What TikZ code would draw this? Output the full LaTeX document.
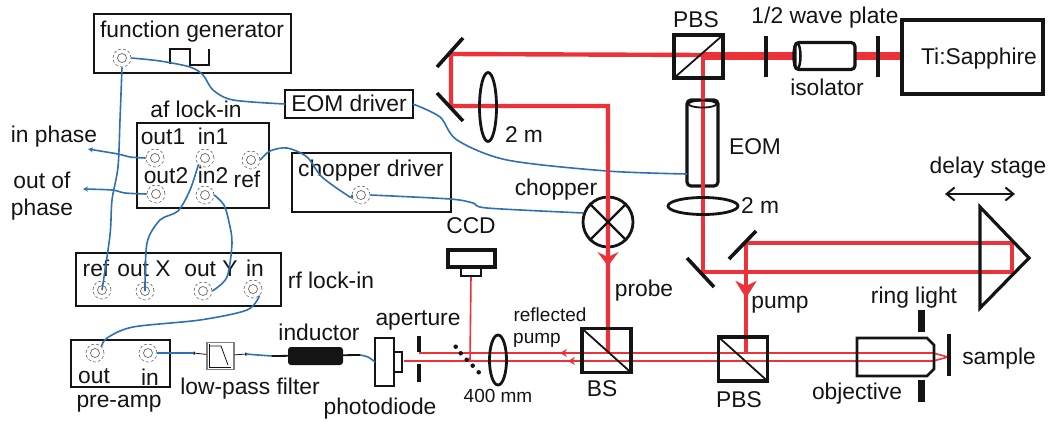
\documentclass[tikz,border=0pt]{standalone}
\usepackage{fontspec}
\setmainfont{Liberation Sans}
\usetikzlibrary{arrows.meta,shapes.geometric,calc}
\definecolor{beamred}{RGB}{236,50,56}
\definecolor{wireblue}{RGB}{46,112,178}
\definecolor{inkblack}{RGB}{20,20,20}

\begin{document}
\begin{tikzpicture}[x=1pt, y=-1pt,
        lbl/.style={font=\fontsize{22.8}{25}\selectfont, text=inkblack, anchor=base, inner sep=0pt, outer sep=0pt},
        smalllbl/.style={lbl, font=\fontsize{19}{22}\selectfont},
        devbox/.style={draw=inkblack, line width=2pt, inner sep=0pt, outer sep=0pt},
        optbox/.style={draw=inkblack, line width=3.2pt, inner sep=0pt, outer sep=0pt},
        optbar/.style={draw=inkblack, line width=3.6pt},
        jack/.style={circle, draw=gray!80!black, line width=0.6pt, densely dashed, minimum size=18pt, inner sep=0pt},
        jackin/.style={circle, draw=gray!80!black, line width=0.7pt, minimum size=9pt, inner sep=0pt},
        wire/.style={draw=wireblue, line width=1.6pt},
        beam/.style={draw=beamred, line width=4.4pt},
        thickbeam/.style={draw=beamred, line width=8pt},
        thinbeam/.style={draw=beamred, line width=1.6pt},
        dot/.style={circle, fill=inkblack, inner sep=0pt, minimum size=4.5pt}]
    \useasboundingbox (0,0) rectangle (1051,421);

    \node[devbox, minimum width=197, minimum height=59] (funcgen) at (192.5,43.5) {};
    \node[devbox, minimum width=128, minimum height=28] (eomdriver) at (349,104) {};
    \node[devbox, minimum width=132, minimum height=85] (aflockin) at (203,165.5) {};
    \node[devbox, minimum width=159, minimum height=59] (chopdriver) at (371.5,182.5) {};
    \node[devbox, minimum width=205, minimum height=53] (rflockin) at (178.5,279.5) {};
    \node[devbox, minimum width=99, minimum height=47] (preamp) at (120.5,363.5) {};

    \foreach \name/\x/\y in {jGen/122/58, jOutOne/155/158, jInOne/205/158, jRef/251/160, jOutTwo/156/194,
            jInTwo/205/195, jChop/361/195, jRfRef/102/290, jRfX/145/291, jRfY/203/291, jRfIn/253/289,
            jAmpOut/95/353, jAmpIn/148/353} {
        \node[jack] (\name) at (\x,\y) {};
        \node[jackin] (\name c) at (\x,\y) {};
    }

    \foreach \name/\x/\y/\txt in {tGen/192/37/function generator, tEomDrv/349/111/EOM driver, tAf/196/117/af lock-in,
            tInPhase/54/142/in phase, tOutOf/42/188/out of, tPhase/42/215/phase, tOutOne/163/144/out1,
            tInOne/213/144/in1, tOutTwo/166/183/out2, tInTwo/213/183/in2, tRef/247/187/ref,
            tChopDrv/371/176/chopper driver, tChopper/556/195/chopper, tLensA/524/142/2 m,
            tRfRef/96/276/ref, tRfX/144/276/out X, tRfY/211/276/out Y, tRfIn/255/276/in, tRf/331/288/rf lock-in,
            tInductor/319/340/inductor, tAmpOut/94/383/out, tAmpIn/150/385/in, tAmp/119/407/pre-amp,
            tFilter/250/394/low-pass filter, tDiode/380/414/photodiode, tAperture/418/325/aperture,
            tCcd/471/233/CCD, tBs/602/396/BS, tProbe/644/296/probe, tPbsA/696/27/PBS,
            tIso/827/95/isolator, tTi/979/64/Ti:Sapphire, tEom/755/154/EOM, tLensB/760/213/2 m,
            tDelay/988/173/delay stage, tPump/780/308/pump, tRing/914/303/ring light, tPbsB/739/407/PBS,
            tObj/857/399/objective, tSample/999/364/sample} {
        \node[lbl] (\name) at (\x,\y) {\txt};
    }
    \node[lbl] (tPlate) at (825,23) {1/2 wave plate};
    \node[smalllbl] (tRefl) at (550,321) {reflected};
    \node[smalllbl] (tReflB) at (537,343) {pump};
    \node[smalllbl] (tLensC) at (498,402) {400 mm};

    \draw[line width=2.2pt, inkblack] (170,64) -- (170,49) -- (190,49) -- (190,65) -- (209,65) -- (209,49);

    % optics drawn first so that the cables can reach them
    \node[circle, draw=inkblack, line width=2.8pt, minimum size=50, inner sep=0pt] (chopper) at (608,222) {};
    \node[optbox, rounded corners=4pt, minimum width=31, minimum height=86] (eom) at (702.5,143) {};
    \node[optbox, line width=2.4pt, minimum width=19, minimum height=48] (diode) at (384.5,362) {};
    \node[draw=gray, fill=white, line width=1.2pt, minimum width=27, minimum height=27, inner sep=0pt] (filter) at (220.5,356) {};
    \node[dot, minimum size=3.5pt] (stubL) at (194,353) {};
    \node[dot, minimum size=3.5pt] (stubR) at (246,354) {};
    \coordinate (tipIn) at (88,149);
    \coordinate (tipOut) at (83,189);
    \coordinate (eomIn) at (687,174);
    \coordinate (indA) at (272,356);
    \coordinate (indB) at (360,355);

    \draw[wire] plot[smooth] coordinates {(jGen.east) (160,61) (190,67) (203,75) (213,90) (233,100) (eomdriver.west)};
    \draw[wire] plot[smooth] coordinates {(jGen.south) (120,120) (118,167) (112,200) (110,235) (jRfRef)};
    \draw[wire, -{Stealth[length=5pt,width=5pt]}] plot[smooth] coordinates {(jOutOne.west) (130,157) (118,154) (tipIn)};
    \draw[wire, -{Stealth[length=5pt,width=5pt]}] plot[smooth] coordinates {(jOutTwo.west) (125,193) (112,190) (tipOut)};
    \draw[wire] plot[smooth] coordinates {(jInOne.south west) (190,190) (178,211) (160,220) (147,243) (jRfX)};
    \draw[wire] plot[smooth] coordinates {(jInTwo.east) (224,205) (229,222) (232,243) (227,277) (jRfY.east)};
    \draw[wire] plot[smooth] coordinates {(jRef.east) (270,151) (287,148) (307,157) (322,177) (350,197) (jChop.west)};
    \draw[wire] plot[smooth] coordinates {(jChop.east) (450,199) (473,203) (487,208) (chopper.160)};
    \draw[wire] plot[smooth] coordinates {(eomdriver.east) (440,117) (457,140) (507,160) (607,171) (eomIn)};
    \draw[wire] plot[smooth] coordinates {(jRfIn.south east) (247,310) (200,320) (133,327) (107,338) (jAmpOut.north east)};
    \draw[wire] plot[smooth] coordinates {(jAmpIn.east) (173,353) (stubL)};
    \draw[wire] plot[smooth] coordinates {(stubR) (258,355) (indA)};
    \draw[wire] plot[smooth] coordinates {(indB) (368,357) (diode.west)};

    % filter
    \draw[inkblack, line width=0.5pt] (209,344) -- (209,367) -- (231,367);
    \draw[inkblack, line width=0.8pt] (209,346) -- (221,346) -- (228,365);
    \draw[inkblack, line width=0.8pt] (stubL) -- (filter);
    \draw[inkblack, line width=0.8pt] (filter) -- (stubR);

    % inductor and photodiode
    \draw[inkblack, line width=1.8pt] (indA) -- (indB);
    \node[fill=inkblack, rounded corners=3pt, minimum width=55, minimum height=18, inner sep=0pt] (inductor) at (315.5,356) {};
    \node[optbox, line width=2.4pt, minimum width=8, minimum height=20] (diodewin) at (398,362) {};

    % beams
    \coordinate (mirA) at (451,54);
    \coordinate (mirB) at (451,106);
    \coordinate (chopTop) at (608,106);
    \coordinate (pbsA) at (703,55);
    \coordinate (tiOut) at (902,56);
    \coordinate (mirC) at (703,272);
    \coordinate (roofA) at (1012,272);
    \coordinate (roofB) at (1012,243);
    \coordinate (mirD) at (746,243);
    \coordinate (upperEnd) at (419,353);
    \coordinate (lowerEnd) at (404,361);
    \coordinate (objA) at (933,353);
    \coordinate (objB) at (933,361);
    \coordinate (focus) at (948,357);

    \draw[thickbeam] (703,56) -- (tiOut);
    \draw[beam] (pbsA) -- (mirA) -- (mirB) -- (chopTop) -- (608,352);
    \draw[beam] (pbsA) -- (mirC) -- (roofA) -- (roofB) -- (mirD) -- (746,352);
    \draw[beam, -{Stealth[length=14pt,width=21pt,inset=5pt]}] (608,240) -- (608,266);
    \draw[beam, -{Stealth[length=17pt,width=21pt,inset=5pt]}] (746,270) -- (746,298);
    \draw[thinbeam] (471,276) -- (470,361);
    \draw[thinbeam] (upperEnd) -- (objA) -- (focus) -- (objB) -- (lowerEnd);
    \draw[thinbeam, -{Stealth[length=7pt,width=8pt]}] (590,353) -- (560,353);
    \draw[thinbeam, -{Stealth[length=7pt,width=8pt]}] (600,361) -- (568,361);

    % mirrors and lenses
    \foreach \a/\b/\c/\d in {437/67/463/38, 437/93/463/121, 687/258/714/287, 729/259/756/231}
        \draw[optbar] (\a,\b) -- (\c,\d);
    \node[ellipse, draw=inkblack, line width=2.8pt, minimum width=17, minimum height=69, inner sep=0pt] (lensA) at (488,107) {};
    \node[ellipse, draw=inkblack, line width=2.8pt, minimum width=70, minimum height=17, inner sep=0pt] (lensB) at (703,206) {};
    \node[ellipse, draw=inkblack, line width=2.8pt, minimum width=17, minimum height=50, inner sep=0pt] (lensC) at (498,360) {};

    \draw[inkblack, line width=2.4pt] (chopper.north west) -- (chopper.south east);
    \draw[inkblack, line width=2.4pt] (chopper.north east) -- (chopper.south west);

    \node[optbox, minimum width=49, minimum height=43] (pbsTop) at (698.5,56.5) {};
    \draw[inkblack, line width=1.8pt] (pbsTop.north east) -- (pbsTop.south west);
    \node[optbox, minimum width=49, minimum height=44] (bs) at (606.5,350.5) {};
    \draw[inkblack, line width=1.8pt] (bs.north west) -- (bs.south east);
    \node[optbox, minimum width=49, minimum height=44] (pbsLow) at (743,359) {};
    \draw[inkblack, line width=1.8pt] (pbsLow.north west) -- (pbsLow.south east);

    \foreach \a/\b/\c/\d in {766/36/766/77, 878/36/878/77, 419/336/419/352, 419/364/419/382, 949/334/949/376}
        \draw[optbar] (\a,\b) -- (\c,\d);
    \foreach \i/\x/\y in {1/455.7/346.7, 2/460.7/353.3, 3/466.7/359.7, 4/472.7/365.7, 5/478.7/372.3}
        \node[dot] (split\i) at (\x,\y) {};

    \node[optbox, fill=white, rounded corners=4pt, minimum width=60, minimum height=27] (isolator) at (825,56) {};
    \draw[inkblack, line width=2.5pt] (797,56) ellipse (3.5 and 13);
    \node[optbox, minimum width=141, minimum height=74] (tisapph) at (972.5,57) {};

    \draw[inkblack, line width=1.8pt] (702.5,104) ellipse (14 and 3.5);

    \node[optbox, minimum width=47, minimum height=17] (ccd) at (471.5,258.5) {};
    \node[optbox, line width=2.4pt, minimum width=20, minimum height=9] (ccdlens) at (471,271.5) {};

    \draw[inkblack, line width=3.2pt] (980,207) -- (1029,258) -- (980,308) -- cycle;
    \draw[inkblack, line width=2pt, {Straight Barb[length=8pt,width=13pt]}-{Straight Barb[length=8pt,width=13pt]}] (945,194) -- (1015,194);

    \draw[inkblack, line width=2.6pt] (857,338) -- (927,338) -- (934,345) -- (934,369) -- (927,376) -- (857,376) -- cycle;
    \draw[inkblack, line width=7pt] (921,310) -- (921,332);
    \draw[inkblack, line width=7pt] (921,380) -- (921,402);
\end{tikzpicture}
\end{document}
